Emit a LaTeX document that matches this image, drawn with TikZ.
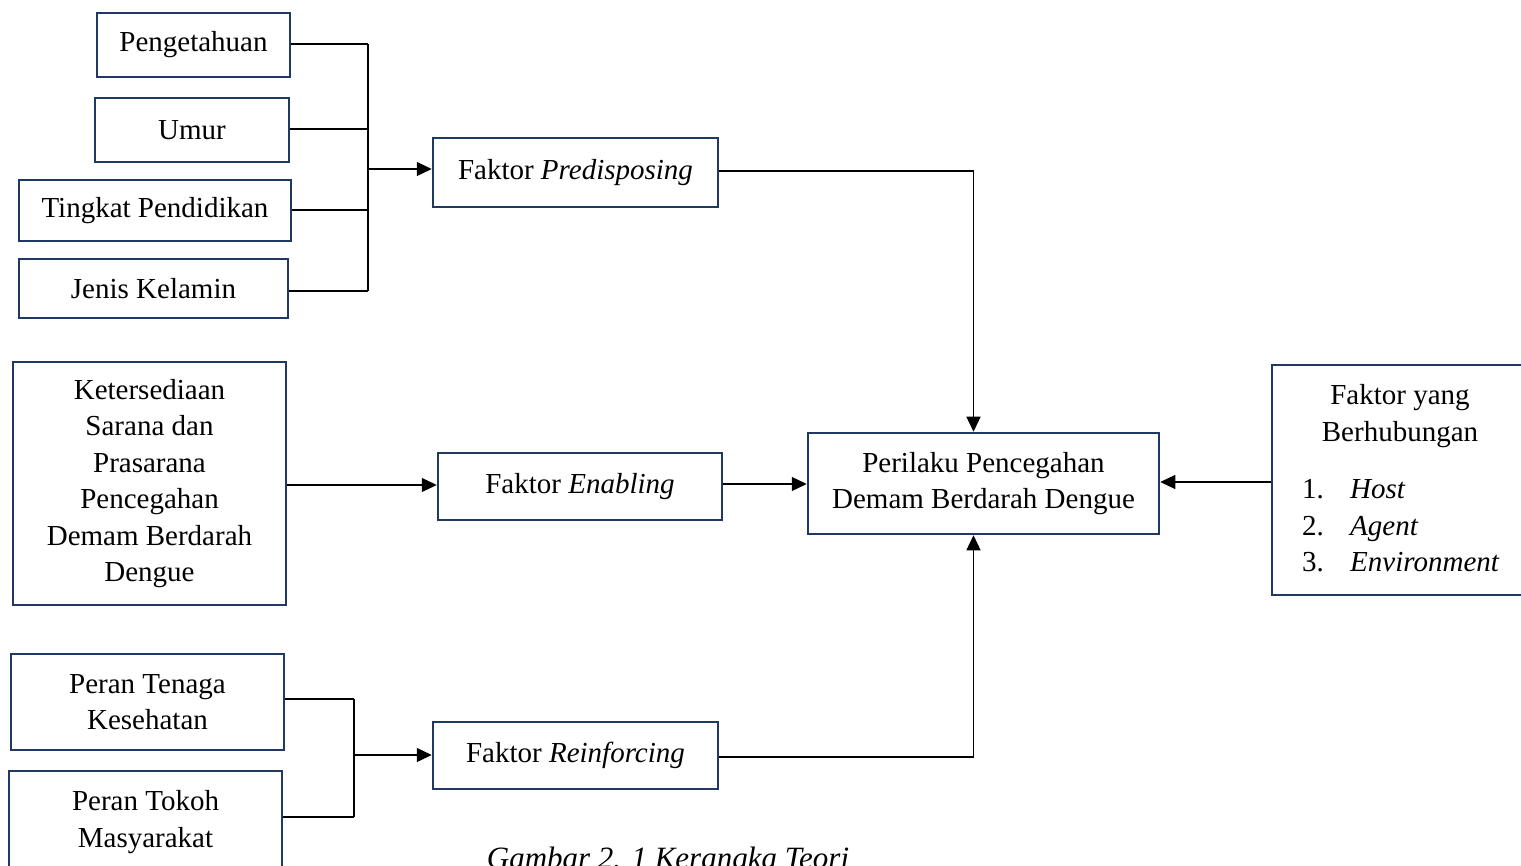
\documentclass[tikz,border=0pt]{standalone}
\usepackage{fontspec}
\setmainfont{Liberation Serif}
\usetikzlibrary{arrows.meta}
\definecolor{navy}{HTML}{1F3864}
\begin{document}
\begin{tikzpicture}[x=1pt,y=-1pt,
  box/.style={draw=navy, line width=2.5pt, inner sep=0pt, align=center,
    font=\fontsize{29}{36.5}\selectfont},
  txt/.style={inner sep=0pt, font=\fontsize{29}{36.5}\selectfont},
  conn/.style={draw=black, line width=1.3pt},
  arr/.style={conn, -{Triangle[length=15pt,width=14pt]}}]
\useasboundingbox (0,0) rectangle (1521,866);
% left column
\node[box, minimum width=193pt, minimum height=64pt] (peng) at (193.5,45) {Pengetahuan};
\node[box, minimum width=194pt, minimum height=64pt] (umur) at (192,130) {Umur};
\node[box, minimum width=272pt, minimum height=61pt] (tingkat) at (155,210.5) {Tingkat Pendidikan};
\node[box, minimum width=269pt, minimum height=59pt] (jenis) at (153.5,288.5) {Jenis Kelamin};
\node[box, minimum width=273pt, minimum height=243pt, inner ysep=0pt] (keter) at (149.5,483.5)
  {\raisebox{-2pt}{\parbox{260pt}{\centering Ketersediaan\\Sarana dan\\Prasarana\\Pencegahan\\Demam Berdarah\\Dengue}}};
\node[box, minimum width=273pt, minimum height=96pt] (tenaga) at (147.5,702) {Peran Tenaga\\Kesehatan};
\node[box, minimum width=273pt, minimum height=118pt, text depth=22pt] (tokoh) at (145.5,830) {Peran Tokoh\\Masyarakat};
% middle column
\node[box, minimum width=285pt, minimum height=69pt] (pred) at (575.5,172.5) {Faktor \textit{Predisposing}};
\node[box, minimum width=284pt, minimum height=67pt] (enab) at (580,486.5) {Faktor \textit{Enabling}};
\node[box, minimum width=285pt, minimum height=67pt] (reinf) at (575.5,755.5) {Faktor \textit{Reinforcing}};
% centre
\node[box, minimum width=351pt, minimum height=101pt] (peri) at (983.5,483.5)
  {Perilaku Pencegahan\\Demam Berdarah Dengue};
% right
\node[box, minimum width=258pt, minimum height=230pt] (faktor) at (1401,480) {};
\node[txt, align=center] (fytitle) at (1400,416) {Faktor yang\\Berhubungan};
\node[txt, align=left, anchor=west] (fylist) at (1302,526)
  {\makebox[48pt][l]{1.}\textit{Host}\\\makebox[48pt][l]{2.}\textit{Agent}\\\makebox[48pt][l]{3.}\textit{Environment}};
% caption
\node[inner sep=0pt, anchor=base, font=\fontsize{31}{36}\selectfont] (cap) at (668,868) {\textit{Gambar 2. 1 Kerangka Teori}};
% bus coordinates
\coordinate (b1t) at (368,44);
\coordinate (b1b) at (368,291);
\coordinate (b1m) at (368,169);
\coordinate (c1) at (973.5,171);
\coordinate (b2t) at (354,699);
\coordinate (b2b) at (354,817);
\coordinate (b2m) at (354,755);
% predisposing group
\draw[conn] (peng.east |- b1t) -- (b1t);
\draw[conn] (umur.east |- 0,129) -- (b1t |- 0,129);
\draw[conn] (tingkat.east |- 0,210) -- (b1t |- 0,210);
\draw[conn] (jenis.east |- b1b) -- (b1b);
\draw[conn] (b1t) -- (b1b);
\draw[arr] (b1m) -- (b1m -| pred.west);
\draw[arr] (pred.east |- c1) -- (c1) -- (c1 |- peri.north);
% enabling
\draw[arr] (keter.east |- 0,485) -- (enab.west |- 0,485);
\draw[arr] (enab.east |- 0,484) -- (peri.west |- 0,484);
% right factor
\draw[arr] (faktor.west |- 0,482) -- (peri.east |- 0,482);
% reinforcing group
\draw[conn] (tenaga.east |- b2t) -- (b2t);
\draw[conn] (tokoh.east |- b2b) -- (b2b);
\draw[conn] (b2t) -- (b2b);
\draw[arr] (b2m) -- (b2m -| reinf.west);
\draw[arr] (reinf.east |- 0,757) -- (c1 |- 0,757) -- (c1 |- peri.south);
\end{tikzpicture}
\end{document}
